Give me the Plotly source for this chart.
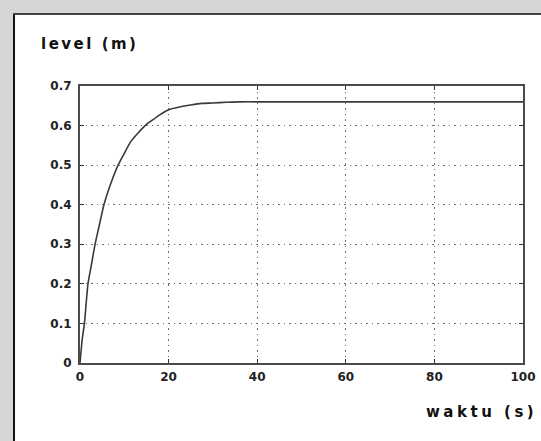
import plotly.graph_objects as go

# time (s) and level (m)
waktu = [0, 0.5, 1, 1.8, 2.6, 3.4, 4.4, 5.4, 7, 8.6, 10, 11.5, 13, 14.7, 16.5, 18, 20, 22.5, 25, 27.5, 30, 33, 36, 40, 50, 60, 70, 80, 90, 100]
level = [0, 0.06, 0.1, 0.2, 0.25, 0.3, 0.35, 0.4, 0.455, 0.5, 0.53, 0.56, 0.58, 0.6, 0.615, 0.627, 0.64, 0.647, 0.652, 0.656, 0.657, 0.659, 0.66, 0.66, 0.66, 0.66, 0.66, 0.66, 0.66, 0.66]

x_ticks = [0, 20, 40, 60, 80, 100]
x_labels = ["0", "20", "40", "60", "80", "100"]
y_ticks = [0, 0.1, 0.2, 0.3, 0.4, 0.5, 0.6, 0.7]
y_labels = ["0", "0.1", "0.2", "0.3", "0.4", "0.5", "0.6", "0.7"]

W, H = 541, 441
L, R, T, B = 80, 18, 86, 78
pw, ph = W - L - R, H - T - B

def px(x):
    return (x - L) / pw

def py(y):
    return (H - B - y) / ph

fig = go.Figure()
fig.add_trace(go.Scatter(x=waktu, y=level, mode="lines",
                         line=dict(color="#3a3a3a", width=1.6, shape="spline", smoothing=0.6),
                         hoverinfo="skip", showlegend=False))

font_tick = dict(family="DejaVu Sans", size=12, color="#222")
axis_common = dict(showline=True, linecolor="#4a4a4a", linewidth=2, mirror="ticks",
                   ticks="inside", ticklen=4, tickcolor="#333", tickwidth=1,
                   showgrid=True, gridcolor="#6f6f6f", gridwidth=1, griddash="1.5px,4px",
                   zeroline=False, tickfont=font_tick, automargin=False)

fig.update_xaxes(range=[0, 100], tickvals=x_ticks, ticktext=["<b>%s</b>" % t for t in x_labels],
                 ticklabelstandoff=2, **axis_common)
fig.update_yaxes(range=[0, 0.7], tickvals=y_ticks, ticktext=["<b>%s</b>" % t for t in y_labels],
                 ticklabelstandoff=4, **axis_common)

shapes = [
    dict(type="rect", xref="paper", yref="paper", x0=px(13), x1=px(W + 2), y0=py(H + 2), y1=py(13),
         fillcolor="white", line=dict(width=0), layer="below"),
    dict(type="line", xref="paper", yref="paper", x0=px(14), x1=px(14), y0=py(H + 2), y1=py(13),
         line=dict(color="#111", width=2), layer="below"),
    dict(type="line", xref="paper", yref="paper", x0=px(13), x1=px(W + 2), y0=py(14), y1=py(14),
         line=dict(color="#444", width=2), layer="below"),
]

annotations = [
    dict(text='<b><span style="letter-spacing:2.5px">level (m)</span></b>', xref="paper", yref="paper",
         x=px(39), y=py(44), xanchor="left", yanchor="middle", showarrow=False,
         font=dict(family="DejaVu Sans", size=15, color="#111")),
    dict(text='<b><span style="letter-spacing:3.5px">waktu (s)</span></b>', xref="paper", yref="paper",
         x=px(539), y=py(412), xanchor="right", yanchor="middle", showarrow=False,
         font=dict(family="DejaVu Sans", size=15, color="#111")),
]

fig.update_layout(width=W, height=H, margin=dict(l=L, r=R, t=T, b=B),
                  paper_bgcolor="#d6d6d6", plot_bgcolor="white",
                  shapes=shapes, annotations=annotations, showlegend=False)

fig.write_html("out.html", config={"displayModeBar": False, "staticPlot": True},
               post_script="document.body.style.margin='0';document.body.style.overflow='hidden';")
